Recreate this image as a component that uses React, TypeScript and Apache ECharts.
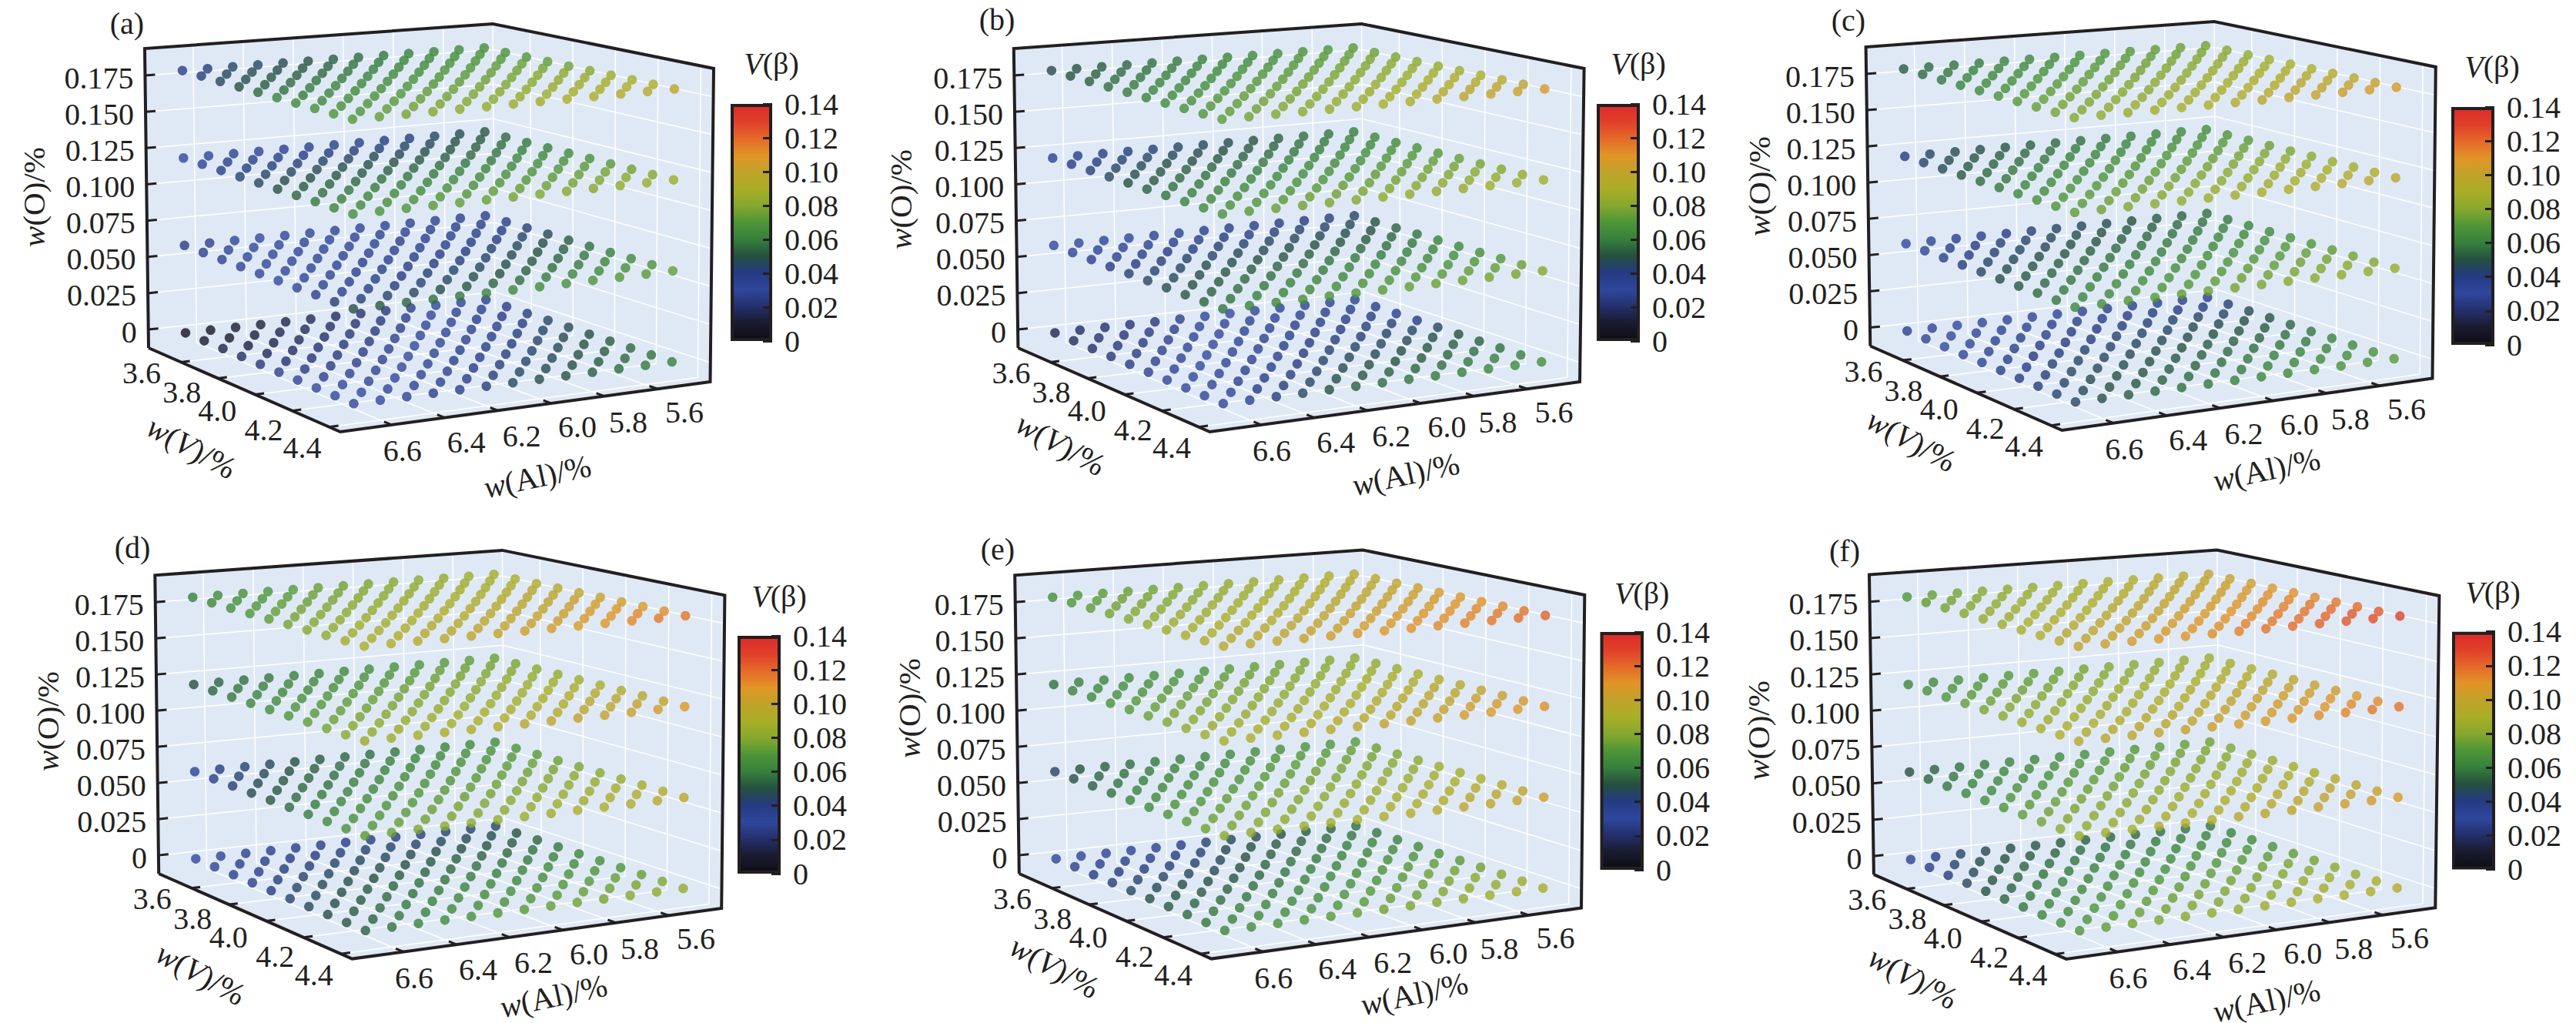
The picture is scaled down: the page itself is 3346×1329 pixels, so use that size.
import { useEffect, useRef } from "react";
import * as echarts from "echarts";

// axis values of the sampled compositions
const alValues = [5.5, 5.6, 5.7, 5.8, 5.9, 6.0, 6.1, 6.2, 6.3, 6.4, 6.5, 6.6, 6.7];
const vValues = [3.5, 3.6, 3.7, 3.8, 3.9, 4.0, 4.1, 4.2, 4.3, 4.4];
const oValues = [0, 0.06, 0.12, 0.18];

const oTicks = [0, 0.025, 0.05, 0.075, 0.1, 0.125, 0.15, 0.175];
const vTicks = [3.6, 3.8, 4.0, 4.2, 4.4];
const alTicks = [6.6, 6.4, 6.2, 6.0, 5.8, 5.6];

// V(beta) x 1000: rows are vValues, columns are alValues
const a0 = [
  [36, 33, 30, 26, 23, 20, 18, 16, 14, 12, 9, 6, 3],
  [39, 36, 33, 29, 26, 23, 21, 19, 17, 15, 12, 9, 9],
  [41, 39, 36, 32, 29, 26, 24, 22, 19, 17, 14, 12, 14],
  [44, 41, 38, 35, 32, 29, 27, 24, 22, 20, 18, 16, 18],
  [47, 44, 41, 38, 35, 32, 30, 27, 25, 23, 21, 20, 23],
  [49, 47, 44, 40, 38, 36, 33, 30, 27, 25, 24, 24, 27],
  [52, 50, 47, 43, 41, 39, 36, 33, 30, 28, 27, 27, 29],
  [55, 52, 49, 46, 44, 42, 39, 35, 33, 31, 29, 29, 30],
  [57, 55, 52, 49, 47, 45, 42, 38, 35, 33, 31, 30, 30],
  [60, 58, 55, 52, 50, 48, 45, 41, 38, 36, 33, 30, 29],
];
const a6 = [
  [36, 36, 35, 35, 34, 34, 33, 32, 31, 30, 29, 27, 25],
  [38, 38, 37, 36, 35, 35, 34, 33, 32, 31, 30, 28, 26],
  [42, 40, 38, 37, 36, 36, 35, 34, 33, 32, 31, 29, 27],
  [47, 44, 41, 39, 38, 37, 36, 35, 34, 33, 32, 30, 28],
  [52, 49, 46, 43, 40, 39, 38, 37, 36, 34, 33, 31, 29],
  [56, 53, 50, 47, 44, 42, 41, 39, 38, 36, 34, 32, 30],
  [60, 58, 54, 51, 48, 46, 44, 42, 40, 38, 36, 34, 32],
  [64, 62, 59, 56, 53, 50, 48, 46, 43, 41, 39, 37, 36],
  [69, 67, 65, 62, 59, 56, 54, 51, 48, 46, 44, 42, 42],
  [74, 72, 71, 69, 67, 65, 63, 61, 58, 56, 54, 51, 48],
];
const a12 = [
  [51, 48, 45, 42, 40, 38, 37, 36, 35, 34, 33, 32, 30],
  [55, 52, 49, 46, 44, 42, 41, 40, 39, 38, 37, 36, 34],
  [58, 56, 53, 51, 49, 47, 46, 45, 44, 42, 41, 40, 38],
  [60, 60, 57, 55, 53, 52, 50, 49, 48, 47, 45, 44, 42],
  [64, 64, 62, 59, 58, 56, 55, 53, 52, 51, 49, 48, 46],
  [67, 68, 66, 64, 62, 61, 59, 58, 57, 55, 54, 52, 50],
  [72, 72, 70, 68, 67, 65, 64, 62, 61, 59, 58, 56, 54],
  [76, 77, 74, 72, 71, 70, 68, 67, 65, 64, 62, 60, 58],
  [80, 81, 79, 77, 76, 74, 73, 71, 70, 68, 66, 64, 62],
  [87, 85, 83, 81, 80, 79, 77, 75, 74, 72, 70, 68, 66],
];
const a18 = [
  [66, 64, 62, 60, 58, 55, 53, 50, 47, 45, 44, 41, 37],
  [68, 68, 66, 64, 62, 59, 57, 54, 51, 49, 48, 45, 42],
  [70, 71, 69, 67, 65, 62, 60, 58, 55, 53, 51, 48, 46],
  [73, 75, 73, 71, 69, 66, 64, 61, 59, 57, 55, 52, 50],
  [76, 78, 76, 74, 72, 70, 68, 65, 63, 61, 59, 56, 55],
  [80, 82, 80, 78, 76, 73, 71, 69, 66, 64, 62, 59, 60],
  [85, 85, 83, 81, 79, 77, 75, 73, 70, 68, 66, 63, 64],
  [89, 89, 87, 85, 83, 81, 79, 76, 74, 72, 70, 67, 67],
  [93, 92, 90, 88, 86, 84, 82, 80, 78, 76, 73, 70, 69],
  [98, 96, 94, 92, 90, 88, 86, 84, 82, 80, 77, 74, 71],
];
const b0 = [
  [35, 34, 33, 32, 31, 30, 29, 26, 23, 21, 20, 18, 15],
  [37, 37, 36, 35, 34, 33, 31, 29, 26, 24, 22, 20, 17],
  [38, 39, 38, 37, 36, 35, 33, 31, 28, 26, 24, 22, 19],
  [40, 42, 41, 40, 38, 37, 35, 33, 30, 28, 26, 24, 22],
  [45, 45, 44, 42, 41, 40, 38, 35, 33, 30, 28, 26, 24],
  [50, 49, 47, 45, 44, 43, 41, 38, 35, 33, 30, 28, 27],
  [53, 53, 51, 49, 47, 46, 44, 41, 38, 36, 33, 30, 29],
  [56, 56, 54, 52, 50, 49, 47, 44, 41, 39, 36, 32, 31],
  [60, 60, 58, 56, 54, 53, 51, 48, 45, 42, 39, 33, 32],
  [66, 64, 62, 60, 58, 57, 55, 53, 50, 46, 42, 34, 32],
];
const b6 = [
  [44, 42, 40, 39, 38, 37, 36, 35, 34, 33, 32, 31, 30],
  [50, 46, 44, 43, 42, 41, 40, 38, 37, 36, 35, 34, 33],
  [53, 50, 48, 47, 46, 45, 43, 42, 40, 40, 38, 37, 36],
  [57, 54, 52, 51, 50, 49, 47, 46, 44, 44, 42, 40, 39],
  [60, 58, 56, 55, 54, 53, 51, 50, 48, 48, 45, 43, 42],
  [63, 62, 60, 59, 58, 57, 55, 54, 52, 51, 48, 46, 45],
  [66, 66, 64, 63, 62, 61, 59, 58, 56, 55, 52, 50, 48],
  [70, 70, 69, 67, 66, 65, 63, 62, 60, 58, 56, 53, 51],
  [75, 74, 73, 72, 71, 70, 68, 66, 64, 62, 60, 57, 54],
  [80, 78, 77, 76, 75, 74, 72, 70, 68, 66, 63, 60, 57],
];
const b12 = [
  [60, 58, 56, 53, 50, 48, 46, 44, 42, 41, 39, 37, 35],
  [63, 61, 59, 57, 54, 52, 50, 48, 46, 45, 43, 41, 39],
  [65, 64, 63, 60, 58, 56, 54, 52, 50, 49, 47, 45, 42],
  [68, 68, 66, 64, 61, 60, 58, 56, 54, 53, 51, 48, 46],
  [71, 71, 69, 67, 65, 64, 62, 60, 58, 57, 55, 52, 50],
  [74, 74, 72, 71, 69, 67, 66, 64, 62, 60, 58, 56, 53],
  [77, 77, 76, 74, 73, 71, 70, 68, 66, 64, 62, 60, 57],
  [80, 81, 79, 78, 76, 75, 74, 72, 70, 68, 66, 63, 61],
  [84, 84, 83, 82, 80, 79, 78, 76, 74, 72, 70, 67, 64],
  [88, 87, 86, 85, 84, 83, 82, 80, 78, 76, 74, 71, 68],
];
const b18 = [
  [72, 70, 68, 66, 64, 62, 60, 58, 56, 54, 52, 50, 47],
  [75, 74, 72, 70, 67, 65, 63, 61, 59, 57, 55, 53, 50],
  [78, 78, 75, 73, 71, 69, 67, 64, 62, 60, 58, 56, 53],
  [81, 81, 79, 77, 74, 72, 70, 68, 65, 63, 61, 59, 56],
  [84, 85, 83, 80, 78, 75, 73, 71, 68, 66, 64, 62, 59],
  [87, 89, 86, 84, 81, 79, 77, 74, 72, 70, 67, 64, 61],
  [91, 93, 90, 87, 85, 82, 80, 77, 75, 73, 70, 67, 64],
  [95, 96, 94, 91, 88, 85, 83, 80, 78, 76, 73, 70, 67],
  [100, 100, 97, 94, 91, 89, 87, 84, 81, 79, 76, 73, 70],
  [107, 104, 101, 98, 95, 92, 90, 87, 84, 82, 79, 76, 73],
];
const c0 = [
  [38, 38, 37, 37, 36, 35, 34, 33, 32, 31, 30, 28, 26],
  [42, 41, 40, 40, 39, 38, 37, 36, 35, 34, 32, 30, 28],
  [47, 45, 44, 43, 42, 41, 40, 39, 37, 36, 35, 32, 30],
  [50, 49, 47, 47, 45, 44, 43, 41, 40, 39, 37, 35, 32],
  [54, 52, 51, 50, 48, 47, 45, 44, 43, 41, 40, 37, 34],
  [58, 56, 54, 53, 52, 50, 48, 47, 45, 44, 42, 39, 37],
  [62, 59, 58, 56, 55, 53, 51, 50, 48, 46, 45, 41, 39],
  [65, 63, 61, 60, 58, 56, 54, 52, 51, 49, 47, 44, 41],
  [68, 66, 65, 63, 61, 59, 57, 55, 53, 51, 50, 46, 43],
  [72, 70, 68, 66, 64, 62, 60, 58, 56, 54, 52, 48, 45],
];
const c6 = [
  [56, 54, 52, 50, 48, 46, 44, 42, 40, 38, 36, 33, 30],
  [58, 57, 55, 53, 52, 50, 48, 46, 44, 42, 40, 37, 34],
  [61, 61, 59, 57, 55, 53, 51, 49, 47, 45, 43, 40, 37],
  [64, 64, 62, 60, 59, 57, 55, 53, 51, 49, 47, 44, 41],
  [67, 67, 66, 64, 62, 60, 59, 57, 55, 53, 51, 48, 44],
  [70, 71, 69, 67, 66, 64, 62, 60, 58, 56, 54, 51, 48],
  [73, 74, 72, 71, 69, 67, 66, 64, 62, 60, 58, 55, 51],
  [77, 77, 76, 74, 73, 71, 70, 68, 66, 64, 62, 59, 55],
  [80, 81, 79, 78, 76, 75, 73, 71, 69, 67, 65, 62, 58],
  [85, 84, 83, 81, 80, 78, 77, 75, 73, 71, 69, 66, 62],
];
const c12 = [
  [66, 64, 62, 60, 58, 56, 55, 53, 51, 49, 47, 44, 40],
  [69, 68, 66, 64, 62, 60, 59, 57, 55, 53, 51, 48, 44],
  [72, 72, 70, 68, 66, 64, 62, 60, 58, 56, 54, 51, 47],
  [75, 75, 73, 71, 69, 67, 66, 64, 62, 60, 58, 55, 51],
  [78, 79, 77, 75, 73, 71, 70, 68, 66, 64, 61, 58, 55],
  [81, 83, 81, 79, 77, 75, 73, 71, 69, 67, 65, 62, 58],
  [85, 87, 85, 83, 81, 79, 77, 75, 73, 71, 68, 65, 62],
  [89, 90, 88, 86, 84, 82, 81, 79, 77, 75, 72, 69, 66],
  [94, 94, 92, 90, 88, 86, 84, 82, 80, 78, 75, 72, 69],
  [100, 98, 96, 94, 92, 90, 88, 86, 84, 82, 79, 76, 73],
];
const c18 = [
  [77, 75, 73, 71, 69, 67, 65, 63, 61, 59, 57, 55, 52],
  [80, 78, 76, 74, 72, 70, 68, 66, 64, 62, 60, 58, 55],
  [83, 82, 80, 78, 76, 74, 72, 69, 67, 65, 63, 61, 58],
  [86, 85, 83, 81, 79, 77, 75, 73, 71, 69, 66, 64, 61],
  [89, 89, 87, 85, 83, 81, 78, 76, 74, 72, 69, 67, 64],
  [92, 92, 90, 88, 86, 84, 82, 79, 77, 75, 73, 71, 68],
  [95, 95, 93, 91, 89, 87, 85, 82, 80, 78, 76, 74, 71],
  [98, 99, 97, 95, 93, 91, 88, 85, 83, 81, 79, 77, 74],
  [102, 102, 100, 98, 96, 94, 92, 89, 87, 85, 82, 80, 77],
  [108, 106, 104, 102, 100, 98, 95, 92, 90, 88, 85, 83, 80],
];
const d0 = [
  [46, 44, 43, 42, 41, 40, 39, 38, 37, 36, 35, 33, 31],
  [50, 48, 47, 46, 45, 44, 43, 42, 40, 39, 38, 36, 33],
  [54, 52, 51, 50, 49, 48, 46, 45, 44, 42, 41, 38, 36],
  [58, 57, 55, 54, 53, 51, 50, 49, 47, 45, 44, 41, 38],
  [62, 61, 59, 58, 57, 55, 54, 52, 50, 48, 47, 44, 41],
  [66, 65, 64, 62, 60, 59, 57, 56, 54, 52, 49, 46, 43],
  [70, 69, 68, 66, 64, 63, 61, 59, 57, 55, 52, 49, 46],
  [74, 74, 72, 70, 68, 66, 65, 63, 60, 58, 55, 52, 48],
  [79, 78, 76, 74, 72, 70, 68, 66, 64, 61, 58, 54, 51],
  [84, 82, 80, 78, 76, 74, 72, 70, 67, 64, 61, 57, 53],
];
const d6 = [
  [66, 64, 62, 60, 58, 56, 54, 52, 49, 46, 43, 39, 34],
  [69, 68, 66, 64, 62, 60, 58, 56, 53, 50, 47, 43, 38],
  [72, 71, 69, 67, 65, 63, 61, 59, 56, 54, 51, 47, 42],
  [75, 75, 73, 71, 69, 67, 65, 63, 60, 57, 55, 51, 47],
  [78, 78, 76, 74, 72, 70, 68, 66, 64, 61, 59, 55, 51],
  [81, 82, 80, 78, 76, 74, 72, 70, 67, 65, 62, 59, 55],
  [84, 85, 83, 81, 79, 77, 75, 73, 71, 69, 66, 63, 59],
  [88, 89, 87, 85, 83, 81, 79, 77, 75, 72, 70, 67, 64],
  [93, 92, 90, 88, 86, 84, 82, 80, 78, 76, 74, 71, 68],
  [98, 96, 94, 92, 90, 88, 86, 84, 82, 80, 78, 75, 72],
];
const d12 = [
  [75, 73, 72, 70, 68, 66, 64, 62, 60, 58, 56, 54, 50],
  [78, 77, 76, 74, 72, 70, 68, 66, 64, 62, 60, 58, 54],
  [81, 80, 79, 77, 75, 73, 71, 69, 67, 65, 63, 61, 58],
  [84, 84, 83, 81, 79, 77, 75, 73, 71, 69, 67, 65, 62],
  [87, 88, 86, 84, 82, 80, 79, 77, 75, 73, 71, 69, 66],
  [90, 91, 90, 88, 86, 84, 82, 80, 78, 76, 74, 72, 69],
  [93, 95, 93, 91, 89, 87, 86, 84, 82, 80, 78, 76, 73],
  [97, 99, 97, 95, 93, 91, 90, 88, 86, 84, 82, 80, 77],
  [102, 102, 100, 98, 96, 94, 93, 91, 89, 87, 85, 83, 81],
  [108, 106, 104, 102, 100, 98, 97, 95, 93, 91, 89, 87, 85],
];
const d18 = [
  [88, 86, 84, 82, 80, 78, 76, 74, 72, 69, 67, 64, 60],
  [90, 89, 87, 85, 83, 81, 79, 77, 75, 72, 70, 67, 63],
  [93, 93, 90, 88, 86, 84, 82, 80, 78, 75, 73, 70, 67],
  [96, 96, 94, 91, 89, 87, 85, 83, 81, 79, 77, 74, 70],
  [99, 99, 97, 94, 92, 90, 88, 86, 84, 82, 80, 77, 73],
  [102, 103, 100, 98, 96, 94, 92, 90, 88, 85, 83, 80, 77],
  [105, 106, 103, 101, 99, 97, 95, 93, 91, 88, 86, 83, 80],
  [108, 109, 107, 104, 102, 100, 98, 96, 94, 92, 90, 87, 83],
  [112, 113, 110, 107, 105, 103, 101, 99, 97, 95, 93, 90, 87],
  [118, 116, 113, 110, 108, 106, 104, 102, 100, 98, 96, 93, 90],
];
const e0 = [
  [56, 54, 52, 50, 48, 46, 43, 38, 35, 34, 33, 32, 32],
  [58, 58, 56, 54, 52, 50, 47, 42, 39, 38, 37, 36, 35],
  [60, 62, 60, 57, 55, 53, 50, 46, 43, 42, 41, 40, 39],
  [64, 65, 63, 61, 59, 57, 54, 50, 47, 46, 45, 43, 42],
  [68, 69, 67, 64, 62, 60, 58, 54, 51, 50, 49, 47, 45],
  [72, 73, 71, 68, 66, 64, 61, 58, 56, 54, 52, 50, 49],
  [76, 77, 75, 72, 69, 67, 65, 62, 60, 58, 56, 54, 52],
  [80, 80, 78, 75, 73, 71, 69, 66, 64, 62, 60, 58, 55],
  [85, 84, 82, 79, 76, 74, 72, 70, 68, 66, 64, 61, 58],
  [90, 88, 86, 83, 80, 78, 76, 74, 72, 70, 68, 65, 62],
];
const e6 = [
  [72, 70, 69, 68, 66, 64, 62, 60, 58, 56, 53, 50, 45],
  [75, 74, 72, 71, 69, 67, 65, 63, 61, 59, 56, 54, 49],
  [79, 77, 76, 75, 73, 71, 69, 67, 65, 63, 60, 57, 53],
  [82, 81, 79, 78, 76, 74, 72, 70, 68, 66, 63, 61, 57],
  [85, 84, 83, 81, 79, 77, 75, 73, 71, 69, 67, 64, 61],
  [88, 88, 86, 85, 83, 81, 79, 77, 75, 73, 70, 68, 64],
  [92, 91, 90, 88, 86, 84, 82, 80, 78, 76, 74, 71, 68],
  [96, 95, 93, 91, 89, 87, 85, 83, 81, 79, 77, 75, 72],
  [100, 98, 97, 95, 93, 91, 89, 87, 85, 83, 81, 78, 76],
  [104, 102, 100, 98, 96, 94, 92, 90, 88, 86, 84, 82, 80],
];
const e12 = [
  [82, 80, 78, 76, 74, 72, 70, 68, 66, 64, 62, 60, 57],
  [84, 83, 81, 79, 77, 75, 73, 71, 69, 67, 66, 64, 61],
  [87, 87, 85, 83, 81, 79, 77, 75, 73, 71, 69, 67, 64],
  [91, 90, 88, 86, 84, 82, 80, 78, 76, 74, 73, 71, 68],
  [94, 93, 91, 89, 87, 85, 83, 82, 80, 78, 76, 74, 72],
  [97, 97, 95, 93, 91, 89, 87, 85, 83, 81, 80, 78, 75],
  [100, 100, 98, 96, 94, 92, 90, 89, 87, 85, 83, 81, 79],
  [103, 103, 101, 99, 97, 95, 93, 92, 90, 88, 87, 85, 83],
  [107, 107, 105, 103, 101, 99, 97, 96, 94, 92, 90, 88, 86],
  [112, 110, 108, 106, 104, 102, 100, 99, 97, 95, 94, 92, 90],
];
const e18 = [
  [95, 92, 90, 88, 85, 83, 81, 78, 76, 74, 72, 70, 66],
  [97, 95, 93, 91, 88, 86, 84, 81, 79, 77, 75, 73, 70],
  [100, 98, 96, 94, 91, 89, 87, 84, 82, 80, 78, 76, 73],
  [103, 101, 99, 97, 94, 92, 90, 88, 86, 84, 82, 80, 77],
  [106, 104, 102, 100, 97, 95, 93, 91, 89, 87, 85, 83, 80],
  [108, 107, 105, 103, 101, 99, 97, 94, 92, 90, 88, 86, 84],
  [111, 110, 108, 106, 104, 102, 100, 97, 95, 93, 91, 89, 87],
  [114, 113, 111, 109, 107, 105, 103, 101, 99, 97, 95, 93, 91],
  [118, 116, 114, 112, 110, 108, 106, 104, 102, 100, 98, 96, 94],
  [122, 119, 117, 115, 113, 111, 109, 107, 105, 103, 101, 99, 98],
];
const f0 = [
  [58, 57, 56, 55, 54, 53, 52, 51, 49, 47, 44, 39, 34],
  [61, 61, 60, 59, 58, 57, 56, 54, 52, 50, 48, 43, 38],
  [65, 65, 64, 63, 62, 60, 59, 58, 56, 54, 51, 47, 42],
  [69, 69, 68, 67, 65, 64, 63, 61, 59, 57, 55, 50, 46],
  [73, 73, 72, 71, 69, 68, 66, 65, 63, 61, 58, 54, 50],
  [77, 78, 76, 74, 73, 71, 70, 68, 66, 64, 62, 58, 54],
  [81, 82, 80, 78, 77, 75, 73, 72, 70, 68, 65, 62, 58],
  [85, 86, 84, 82, 80, 79, 77, 75, 73, 71, 69, 65, 62],
  [90, 90, 88, 86, 84, 82, 80, 79, 77, 75, 72, 69, 66],
  [96, 94, 92, 90, 88, 86, 84, 82, 80, 78, 76, 73, 70],
];
const f6 = [
  [76, 74, 73, 71, 69, 67, 65, 63, 61, 59, 57, 54, 50],
  [79, 78, 76, 75, 73, 71, 69, 67, 65, 63, 61, 58, 54],
  [82, 81, 80, 78, 76, 74, 72, 70, 68, 66, 64, 61, 58],
  [85, 85, 83, 82, 80, 78, 76, 74, 72, 70, 68, 65, 62],
  [88, 88, 87, 85, 83, 81, 79, 77, 75, 73, 71, 69, 66],
  [91, 92, 90, 89, 87, 85, 83, 81, 79, 77, 75, 72, 69],
  [95, 95, 94, 92, 90, 88, 86, 84, 82, 80, 78, 76, 73],
  [98, 99, 97, 96, 94, 92, 90, 88, 86, 84, 82, 80, 77],
  [103, 102, 101, 99, 97, 95, 93, 91, 89, 87, 85, 83, 81],
  [108, 106, 104, 103, 101, 99, 97, 95, 93, 91, 89, 87, 85],
];
const f12 = [
  [86, 84, 83, 81, 79, 77, 75, 73, 71, 69, 67, 65, 63],
  [89, 88, 86, 84, 82, 80, 78, 76, 74, 73, 71, 69, 67],
  [92, 91, 90, 88, 86, 84, 82, 80, 78, 76, 74, 72, 70],
  [95, 95, 93, 91, 89, 87, 85, 83, 81, 80, 78, 76, 74],
  [98, 98, 97, 95, 93, 91, 89, 87, 85, 83, 82, 80, 78],
  [101, 102, 100, 98, 96, 94, 92, 90, 88, 87, 85, 83, 81],
  [104, 105, 104, 102, 100, 98, 96, 94, 92, 90, 89, 87, 85],
  [108, 109, 107, 105, 103, 101, 99, 97, 95, 94, 93, 91, 89],
  [112, 112, 110, 108, 106, 104, 102, 100, 98, 97, 96, 94, 92],
  [118, 116, 114, 112, 110, 108, 106, 104, 102, 101, 100, 98, 96],
];
const f18 = [
  [100, 98, 96, 93, 90, 88, 86, 84, 82, 80, 77, 74, 70],
  [102, 101, 99, 96, 93, 91, 89, 87, 85, 83, 80, 77, 73],
  [105, 104, 102, 99, 97, 95, 92, 90, 88, 86, 83, 80, 77],
  [108, 108, 105, 103, 100, 98, 96, 93, 91, 89, 87, 84, 80],
  [111, 111, 108, 106, 103, 101, 99, 96, 94, 92, 90, 87, 83],
  [114, 114, 112, 109, 107, 105, 102, 100, 98, 96, 93, 90, 87],
  [117, 117, 115, 112, 110, 108, 105, 103, 101, 99, 96, 93, 90],
  [120, 120, 118, 116, 113, 111, 109, 106, 104, 102, 100, 97, 93],
  [124, 124, 121, 119, 117, 115, 112, 109, 107, 105, 103, 100, 97],
  [130, 127, 124, 122, 120, 118, 115, 112, 110, 108, 106, 103, 100],
];

// colour of the bar at 0, 0.01, ... 0.14
const colorRamp = [
  "#0d0d14", "#1a1b30", "#24306e", "#2f479c", "#243a82",
  "#25503f", "#36803c", "#4d9538", "#86a82e", "#a9ae27",
  "#bfa32a", "#e09526", "#e56a29", "#e0402a", "#dd2b2a",
];

const INK = "#231f20";
const SERIF = "Liberation Serif";
const WALL = "#dfe9f6";

// six box corners (L left, B back, R right, F front, 1 top, 0 floor) and text anchors, in page pixels
const panels = [
  { name: "(a)", layers: [a0, a6, a12, a18], L1: [188, 63], B1: [640, 31], R1: [927, 89], L0: [193, 452], F0: [442, 561], R0: [922.5, 496], bar: [947, 133, 1005, 445], nameAt: [165, 30], barTitle: [1002, 82], wO: [44, 256], wV: [249, 581], wAl: [698, 619] },
  { name: "(b)", layers: [b0, b6, b12, b18], L1: [1316.8, 63], B1: [1768.5, 31], R1: [2057.6, 89], L0: [1322.4, 452], F0: [1571.4, 561], R0: [2052, 496], bar: [2072, 133, 2132, 445], nameAt: [1295, 25], barTitle: [2128, 82], wO: [1170, 259], wV: [1378, 577], wAl: [1826, 616] },
  { name: "(c)", layers: [c0, c6, c12, c18], L1: [2423.6, 61], B1: [2876, 28], R1: [3163.8, 87], L0: [2429.3, 449.5], F0: [2678.4, 559], R0: [3159.5, 491.6], bar: [3182, 137, 3242, 450], nameAt: [2401, 26], barTitle: [3237, 86], wO: [2285, 242], wV: [2483, 572], wAl: [2944, 610] },
  { name: "(d)", layers: [d0, d6, d12, d18], L1: [201.3, 747.3], B1: [652.4, 714.9], R1: [941.4, 773.4], L0: [206.2, 1135], F0: [457.4, 1245.6], R0: [937.2, 1180], bar: [956, 824, 1016, 1137], nameAt: [172, 711], barTitle: [1012, 774], wO: [62, 937], wV: [261, 1265], wAl: [719, 1294] },
  { name: "(e)", layers: [e0, e6, e12, e18], L1: [1318.2, 747.3], B1: [1769.9, 714.5], R1: [2058.3, 773], L0: [1323.8, 1135], F0: [1573.5, 1245.6], R0: [2054, 1179.6], bar: [2076.5, 819, 2137, 1132], nameAt: [1296, 713], barTitle: [2132.6, 770], wO: [1181, 920], wV: [1370, 1256], wAl: [1837, 1291] },
  { name: "(f)", layers: [f0, f6, f12, f18], L1: [2428, 746.6], B1: [2879.7, 714.6], R1: [3168.4, 774], L0: [2433.9, 1136.2], F0: [2683.9, 1245.9], R0: [3163.3, 1179.3], bar: [3183, 818.7, 3243, 1131.5], nameAt: [2396, 715], barTitle: [3238, 769], wO: [2284, 949], wV: [2485, 1270], wAl: [2944, 1300] },
];

// hand placed tick labels: offset from the tick on the box edge
const vLabelShift = [[-51, 14], [-47, 18], [-49, 21], [-37, 25], [-35, 27]];
const alLabelShift = [[14, 34], [28, 32], [31, 33], [34, 31], [31, 34], [35, 30]];

// box limits in data units
const AL_FRONT = 6.793;
const AL_BACK = 5.402;
const V_BACK = 3.425;
const V_FRONT = 4.46;
const O_LOW = -0.0127;
const O_HIGH = 0.1936;

type Panel = (typeof panels)[number];

function lerp(a: number[], b: number[], t: number) {
  return [a[0] + (b[0] - a[0]) * t, a[1] + (b[1] - a[1]) * t];
}

// 3D box to the flat page: interpolate between the eight box corners
function project(p: Panel, al: number, v: number, o: number) {
  const u = (AL_FRONT - al) / (AL_FRONT - AL_BACK);
  const t = (v - V_BACK) / (V_FRONT - V_BACK);
  const w = (o - O_LOW) / (O_HIGH - O_LOW);
  const B0 = [p.B1[0] + 3, p.B1[1] + 371];
  const F1 = [p.F0[0] - 2, p.F0[1] - 427];
  const floor = lerp(lerp(p.L0, B0, u), lerp(p.F0, p.R0, u), t);
  const top = lerp(lerp(p.L1, p.B1, u), lerp(F1, p.R1, u), t);
  return lerp(floor, top, w);
}

function serifText(text: string, at: number[], fontSize: number, extra: any = {}) {
  return {
    type: "text",
    x: at[0],
    y: at[1],
    rotation: extra.rotation || 0,
    silent: true,
    style: {
      text,
      fill: INK,
      fontFamily: SERIF,
      fontSize,
      align: extra.align || "center",
      verticalAlign: "middle",
      rich: { i: { fontFamily: SERIF, fontSize, fontStyle: "italic", fill: INK } },
    },
  };
}

function boxChildren(p: Panel, api: any) {
  const at = (al: number, v: number, o: number) => api.coord(project(p, al, v, o));
  const line = (a: number[], b: number[], stroke: string, lineWidth: number) => ({
    type: "line",
    silent: true,
    shape: { x1: a[0], y1: a[1], x2: b[0], y2: b[1] },
    style: { stroke, lineWidth },
  });
  const children: any[] = [];
  children.push({
    type: "polygon",
    silent: true,
    shape: { points: [at(AL_FRONT, V_BACK, O_HIGH), at(AL_BACK, V_BACK, O_HIGH), at(AL_BACK, V_FRONT, O_HIGH), at(AL_BACK, V_FRONT, O_LOW), at(AL_FRONT, V_FRONT, O_LOW), at(AL_FRONT, V_BACK, O_LOW)] },
    style: { fill: WALL },
  });
  oTicks.forEach((o) => {
    children.push(line(at(AL_FRONT, V_BACK, o), at(AL_BACK, V_BACK, o), "#ffffff", 1.5));
    children.push(line(at(AL_BACK, V_BACK, o), at(AL_BACK, V_FRONT, o), "#ffffff", 1.5));
  });
  alTicks.forEach((al) => {
    children.push(line(at(al, V_BACK, O_LOW), at(al, V_BACK, O_HIGH), "#ffffff", 1.5));
    children.push(line(at(al, V_BACK, O_LOW), at(al, V_FRONT, O_LOW), "#ffffff", 1.5));
  });
  vTicks.forEach((v) => {
    children.push(line(at(AL_BACK, v, O_LOW), at(AL_BACK, v, O_HIGH), "#ffffff", 1.5));
    children.push(line(at(AL_FRONT, v, O_LOW), at(AL_BACK, v, O_LOW), "#ffffff", 1.5));
  });
  children.push(line(at(AL_BACK, V_BACK, O_LOW), at(AL_BACK, V_BACK, O_HIGH), "#ffffff", 1.5));
  children.push({
    type: "polyline",
    silent: true,
    shape: { points: [at(AL_FRONT, V_BACK, O_LOW), at(AL_FRONT, V_BACK, O_HIGH), at(AL_BACK, V_BACK, O_HIGH), at(AL_BACK, V_FRONT, O_HIGH), at(AL_BACK, V_FRONT, O_LOW), at(AL_FRONT, V_FRONT, O_LOW), at(AL_FRONT, V_BACK, O_LOW)] },
    style: { stroke: INK, lineWidth: 4, fill: "none" },
  });
  oTicks.forEach((o) => {
    const tick = at(AL_FRONT, V_BACK, o);
    children.push(line(tick, at(AL_FRONT - 0.04, V_BACK, o), INK, 3));
    children.push(serifText(o === 0 ? "0" : o.toFixed(3), [tick[0] - 15, tick[1] + 3], 40, { align: "right" }));
  });
  vTicks.forEach((v, i) => {
    const tick = at(AL_FRONT, v, O_LOW);
    children.push(line(tick, at(AL_FRONT - 0.035, v, O_LOW), INK, 3));
    children.push(serifText(v.toFixed(1), [tick[0] + vLabelShift[i][0], tick[1] + vLabelShift[i][1]], 40));
  });
  alTicks.forEach((al, i) => {
    const tick = at(al, V_FRONT, O_LOW);
    children.push(line(tick, at(al, V_FRONT - 0.04, O_LOW), INK, 3));
    children.push(serifText(al.toFixed(1), [tick[0] + alLabelShift[i][0], tick[1] + alLabelShift[i][1]], 40));
  });
  children.push(serifText(p.name, api.coord(p.nameAt), 40));
  children.push(serifText("{i|V}(β)", api.coord(p.barTitle), 40));
  children.push(serifText("{i|w}(O)/%", api.coord(p.wO), 41, { rotation: Math.PI / 2 }));
  children.push(serifText("{i|w}({i|V})/%", api.coord(p.wV), 41, { rotation: -0.5 }));
  children.push(serifText("{i|w}(Al)/%", api.coord(p.wAl), 41, { rotation: 0.21 }));
  return children;
}

function dotsOf(p: Panel) {
  const dots: number[][] = [];
  p.layers.forEach((layer, k) => {
    layer.forEach((row, r) => {
      row.forEach((val, c) => {
        const xy = project(p, alValues[c], vValues[r], oValues[k]);
        dots.push([xy[0], xy[1], val / 1000]);
      });
    });
  });
  return dots;
}

function buildOption() {
  const grid: any[] = [{ left: 0, top: 0, width: 3346, height: 1329 }];
  const xAxis: any[] = [{ gridIndex: 0, type: "value", min: 0, max: 3346, show: false }];
  const yAxis: any[] = [{ gridIndex: 0, type: "value", min: 0, max: 1329, inverse: true, show: false }];
  const series: any[] = [];
  const dotIndexes: number[] = [];

  const gradient = colorRamp.map((color, i) => ({ offset: 1 - i / (colorRamp.length - 1), color })).reverse();

  panels.forEach((p, i) => {
    series.push({
      type: "custom",
      xAxisIndex: 0,
      yAxisIndex: 0,
      data: [[0, 0]],
      z: 1,
      silent: true,
      clip: false,
      renderItem: (_: any, api: any) => ({ type: "group", children: boxChildren(p, api) }),
    });
    dotIndexes.push(series.length);
    series.push({
      type: "scatter",
      xAxisIndex: 0,
      yAxisIndex: 0,
      data: dotsOf(p),
      symbolSize: 12.5,
      z: 2,
      silent: true,
      progressive: 0,
    });

    const [x0, y0, x1, y1] = p.bar;
    grid.push({ left: x0 + 2, top: y0 + 2, width: x1 - x0 - 4, height: y1 - y0 - 4 });
    xAxis.push({ gridIndex: i + 1, type: "category", data: [""], show: false });
    yAxis.push({
      gridIndex: i + 1,
      type: "value",
      min: 0,
      max: 0.14,
      interval: 0.02,
      position: "right",
      z: 5,
      splitLine: { show: false },
      axisLine: { show: false },
      axisTick: { show: true, inside: true, length: 12, lineStyle: { color: INK, width: 3 } },
      axisLabel: {
        margin: 16,
        color: INK,
        fontFamily: SERIF,
        fontSize: 40,
        padding: [0, 0, 6, 0],
        formatter: (v: number) => (v === 0 ? "0" : v.toFixed(2)),
      },
    });
    series.push({
      type: "bar",
      xAxisIndex: i + 1,
      yAxisIndex: i + 1,
      data: [0.14],
      barWidth: "100%",
      silent: true,
      z: 2,
      itemStyle: {
        color: new echarts.graphic.LinearGradient(0, 0, 0, 1, gradient),
        borderColor: INK,
        borderWidth: 4,
      },
    });
  });

  return {
    animation: false,
    backgroundColor: "#ffffff",
    grid,
    xAxis,
    yAxis,
    visualMap: { show: false, type: "continuous", min: 0, max: 0.14, dimension: 2, seriesIndex: dotIndexes, inRange: { color: colorRamp } },
    series,
  };
}

export default function App() {
  const chartRef = useRef<HTMLDivElement>(null);

  useEffect(() => {
    if (!chartRef.current) return;
    const chart = echarts.init(chartRef.current, undefined, { renderer: "svg" });
    chart.setOption(buildOption() as any);
    return () => chart.dispose();
  }, []);

  return <div ref={chartRef} style={{ position: "absolute", left: 0, top: 0, width: 3346, height: 1329 }} />;
}
